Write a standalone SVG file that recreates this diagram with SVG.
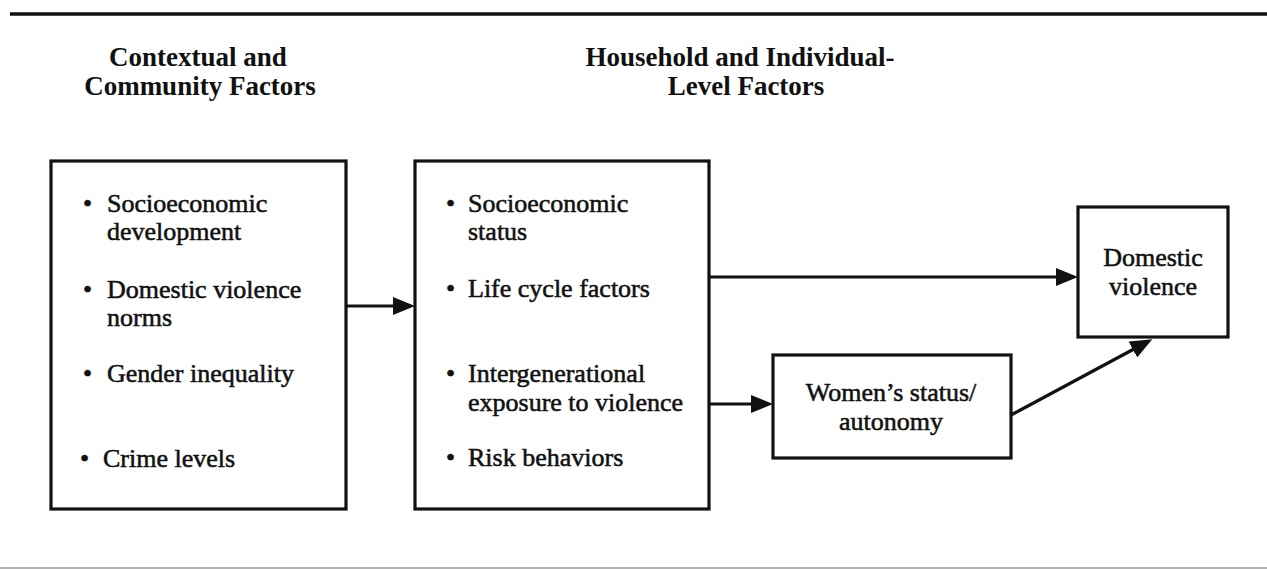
<svg xmlns="http://www.w3.org/2000/svg" width="1267" height="570" viewBox="0 0 1267 570">
<style>
.box{fill:#fff;stroke:#111;stroke-width:3.2}
.t{font-family:"Liberation Serif","Times New Roman",serif;font-size:26px;fill:#111;stroke:#111;stroke-width:0.55}
.h{font-family:"Liberation Serif","Times New Roman",serif;font-size:27px;font-weight:bold;fill:#111}
.c{text-anchor:middle}
.conn{stroke:#111;stroke-width:3.2;fill:none}
</style>
<defs>
<marker id="ah" markerUnits="userSpaceOnUse" markerWidth="22" markerHeight="18" viewBox="0 0 22 18" refX="16" refY="9" orient="auto">
<path d="M0,0 L22,9 L0,18 z" fill="#111"/>
</marker>
</defs>
<rect width="1267" height="570" fill="#fff"/>
<line x1="10" y1="14" x2="1267" y2="14" stroke="#111" stroke-width="3.5"/>
<line x1="0" y1="568" x2="1267" y2="568" stroke="#999" stroke-width="1.5"/>

<g id="heading-contextual">
<text class="h c" x="198" y="66">Contextual and</text>
<text class="h c" x="200" y="95">Community Factors</text>
</g>
<g id="heading-household">
<text class="h c" x="740" y="66">Household and Individual-</text>
<text class="h c" x="746" y="95">Level Factors</text>
</g>

<g id="node-contextual">
<rect class="box" x="51" y="161" width="295" height="348"/>
<g class="t">
<text x="83" y="212">•</text><text x="107" y="212">Socioeconomic</text>
<text x="107" y="240">development</text>
<text x="83" y="298">•</text><text x="107" y="298">Domestic violence</text>
<text x="107" y="326">norms</text>
<text x="83" y="382">•</text><text x="107" y="382">Gender inequality</text>
<text x="80" y="467">•</text><text x="103" y="467">Crime levels</text>
</g>
</g>

<g id="node-household">
<rect class="box" x="415" y="161" width="294" height="348"/>
<g class="t">
<text x="446" y="212">•</text><text x="468" y="212">Socioeconomic</text>
<text x="468" y="240">status</text>
<text x="446" y="297">•</text><text x="468" y="297">Life cycle factors</text>
<text x="446" y="382">•</text><text x="468" y="382">Intergenerational</text>
<text x="468" y="411">exposure to violence</text>
<text x="446" y="466">•</text><text x="468" y="466">Risk behaviors</text>
</g>
</g>

<g id="node-domestic-violence">
<rect class="box" x="1078" y="207" width="150" height="130"/>
<text class="t c" x="1153" y="266">Domestic</text>
<text class="t c" x="1153" y="295">violence</text>
</g>

<g id="node-womens-status">
<rect class="box" x="773" y="355" width="238" height="103"/>
<text class="t c" x="891" y="401">Women’s status/</text>
<text class="t c" x="891" y="430">autonomy</text>
</g>

<g id="connectors">
<line class="conn" x1="346" y1="306" x2="409" y2="306" marker-end="url(#ah)"/>
<line class="conn" x1="709" y1="277" x2="1072" y2="277" marker-end="url(#ah)"/>
<line class="conn" x1="709" y1="404" x2="767" y2="404" marker-end="url(#ah)"/>
<line class="conn" x1="1011" y1="415" x2="1147" y2="342" marker-end="url(#ah)"/>
</g>
</svg>
